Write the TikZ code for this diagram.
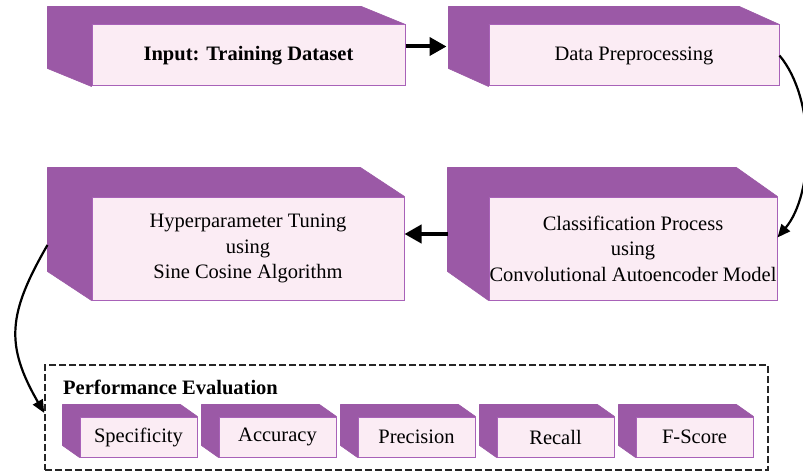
\documentclass[tikz,border=0pt]{standalone}
\usepackage{fontspec}
\setmainfont{Liberation Serif}
\usetikzlibrary{calc,arrows.meta,backgrounds}

\definecolor{prismside}{RGB}{155,89,166}
\definecolor{prismedge}{RGB}{168,98,184}
\definecolor{prismface}{RGB}{251,236,244}

% purple top and left side of a block, plus a point on its back edge
\newcommand{\extrude}[3]{%
  \filldraw[prism] ($(#1.south west)+(-#2,#3)$) -- ($(#1.north west)+(-#2,#3)$)
    -- ($(#1.north east)+(-#2,#3)$) -- (#1.north east) -- (#1.north west)
    -- (#1.south west) -- cycle;
  \coordinate (#1-back) at ($(#1.west)+(-#2,#3/2)$);}

\tikzset{
  face/.style={draw=prismedge,line width=1pt,fill=prismface,align=center,
    inner sep=0pt,font=\fontsize{20.5}{25.5}\selectfont},
  metric/.style={face,minimum width=117pt,minimum height=40pt},
  prism/.style={fill=prismside,draw=prismside,line width=0.6pt,line join=round},
  flow/.style={line width=4pt,-{Triangle[length=17pt,width=18pt]}},
  loopflow/.style={line width=2.2pt,-{Triangle[length=13pt,width=11pt]}},
  evalbox/.style={draw=black!85,line width=1.5pt,dash pattern=on 7pt off 3pt},
}

\begin{document}
\begin{tikzpicture}[x=1pt,y=1pt]
\useasboundingbox (0,0) rectangle (803,475);
% steps
\node[face,minimum width=313pt,minimum height=61pt] (input) at (248.5,419.5) {\textbf{Input: Training Dataset}};
\node[face,minimum width=290pt,minimum height=61pt] (prep) at (634,419.5) {Data Preprocessing};
\node[face,minimum width=312pt,minimum height=103pt] (tune) at (248,226.5) {Hyperparameter Tuning\\using\\Sine Cosine Algorithm};
\node[face,minimum width=288pt,minimum height=103pt] (cae) at (633,226.5) {Classification Process\\using\\Convolutional Autoencoder Model};
% evaluation
\node[evalbox,minimum width=723pt,minimum height=105pt] (perf) at (406.5,57.5) {};
\node[anchor=west,inner sep=0pt,font=\bfseries\fontsize{20.5}{24}\selectfont] (perftitle) at (63,88) {Performance Evaluation};
\foreach \lbl [count=\i] in {Specificity,Accuracy,Precision,Recall,F-Score}
  \node[metric] (m\i) at (138.5+139*\i-139,38) {\lbl};
% 3d sides
\begin{scope}[on background layer]
\extrude{input}{44}{18}
\extrude{prep}{40}{18}
\extrude{tune}{44}{29}
\extrude{cae}{41}{29}
\foreach \i in {1,...,5} {\extrude{m\i}{17}{12}}
\end{scope}
% arrows
\draw[flow,shorten >=2pt] (input.east |- prep-back) -- (prep-back);
\draw[flow] (cae-back) -- (tune.east |- cae-back);
\draw[loopflow] (prep.east) to[out=-50,in=50,looseness=0.8] ([yshift=11pt]cae.east);
\draw[loopflow] ([yshift=-11pt]tune-back) to[out=-120,in=120,looseness=1.2] ([yshift=4.5pt]perf.west);
\end{tikzpicture}
\end{document}
